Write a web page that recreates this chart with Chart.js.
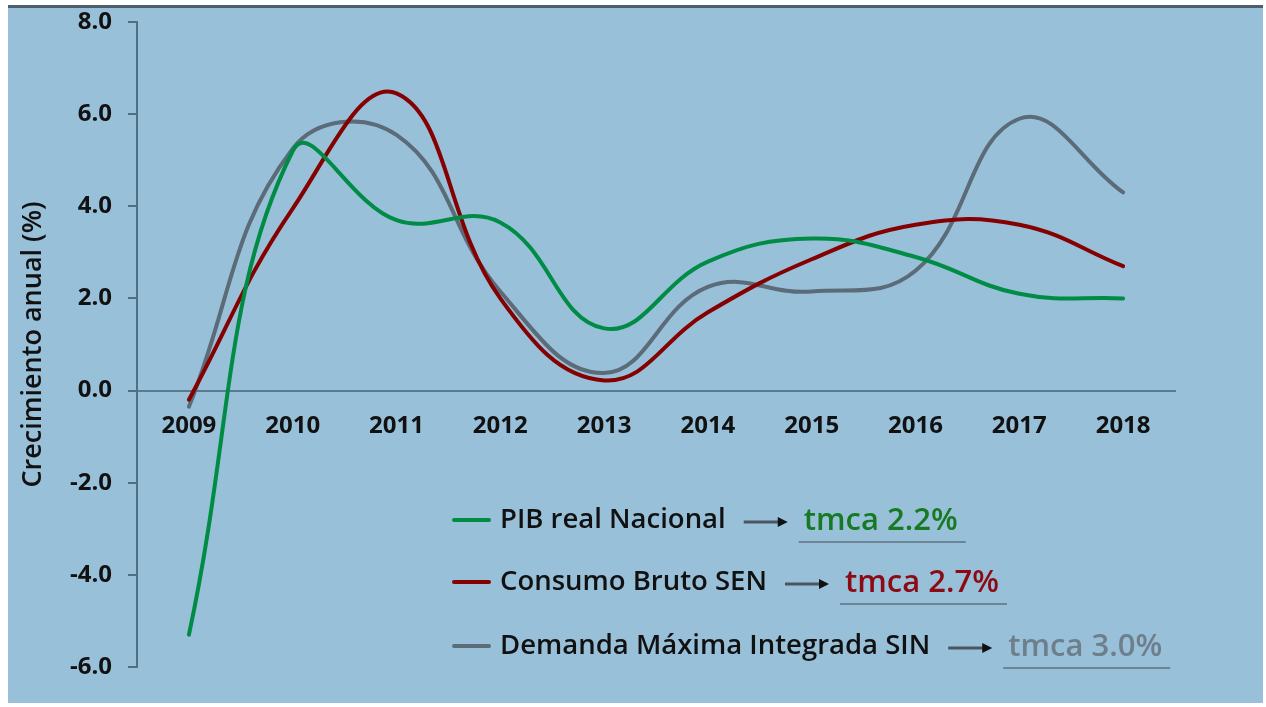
<!DOCTYPE html>
<html>
<head>
<meta charset="utf-8">
<script src="https://cdn.jsdelivr.net/npm/chart.js@4.4.0/dist/chart.umd.min.js"></script>
<style>
  html, body { margin: 0; padding: 0; background: #ffffff; }
  #frame {
    position: absolute; left: 8px; top: 5px;
    width: 1255px; height: 695px;
    border-top: 3px solid #4e5f6b;
    background: #98c0d9;
  }
  #growthChart { display: block; }
</style>
</head>
<body>
<div id="frame">
  <canvas id="growthChart" width="1255" height="695"></canvas>
</div>
<script>
const years = ['2009', '2010', '2011', '2012', '2013', '2014', '2015', '2016', '2017', '2018'];

const pibReal = [-5.3, 5.2, 3.7, 3.65, 1.35, 2.8, 3.3, 2.9, 2.1, 2.0];
const consumoBruto = [-0.2, 3.95, 6.45, 2.0, 0.22, 1.7, 2.85, 3.6, 3.6, 2.7];
const demandaMaxima = [-0.35, 5.25, 5.55, 2.15, 0.38, 2.25, 2.15, 2.6, 5.9, 4.3];

const seriesNames = ['PIB real Nacional', 'Consumo Bruto SEN', 'Demanda Máxima Integrada SIN'];
const seriesColors = ['#008c45', '#850000', '#5b6b78'];
const tmcaLabels = ['tmca 2.2%', 'tmca 2.7%', 'tmca 3.0%'];
const tmcaColors = ['#177a22', '#8c0a14', '#6e7e8b'];

const yMin = -6;
const yMax = 8;
const yStep = 2;

const FONT = '"Open Sans", "DejaVu Sans", sans-serif';

// legend drawn by hand: line swatch, label, arrow, underlined tmca
const tmcaLegend = {
  id: 'tmcaLegend',
  afterDraw(chart) {
    const ctx = chart.ctx;
    const rows = [512, 574, 638];
    ctx.save();
    seriesNames.forEach((name, i) => {
      const y = rows[i];
      // swatch
      ctx.strokeStyle = seriesColors[i];
      ctx.lineWidth = 4;
      ctx.lineCap = 'round';
      ctx.beginPath();
      ctx.moveTo(446, y);
      ctx.lineTo(481, y);
      ctx.stroke();

      // label
      ctx.font = '600 27.5px ' + FONT;
      ctx.fillStyle = '#111111';
      ctx.textBaseline = 'middle';
      ctx.textAlign = 'left';
      ctx.fillText(name, 492, y);
      const textEnd = 492 + ctx.measureText(name).width;

      // arrow
      const ax = textEnd + 18;
      ctx.strokeStyle = '#4a5763';
      ctx.lineWidth = 3;
      ctx.lineCap = 'butt';
      ctx.beginPath();
      ctx.moveTo(ax, y + 2);
      ctx.lineTo(ax + 36, y + 2);
      ctx.stroke();
      ctx.fillStyle = '#111111';
      ctx.beginPath();
      ctx.moveTo(ax + 44, y + 2);
      ctx.lineTo(ax + 34, y - 3);
      ctx.lineTo(ax + 34, y + 7);
      ctx.closePath();
      ctx.fill();

      // tmca text
      const tx = ax + 60;
      ctx.font = '600 31px ' + FONT;
      ctx.fillStyle = tmcaColors[i];
      ctx.fillText(tmcaLabels[i], tx, y + 1);
      const tw = ctx.measureText(tmcaLabels[i]).width;

      // underline
      ctx.strokeStyle = '#6d8396';
      ctx.lineWidth = 2;
      ctx.beginPath();
      ctx.moveTo(tx - 5, y + 22);
      ctx.lineTo(tx + tw + 8, y + 22);
      ctx.stroke();
    });
    ctx.restore();
  }
};

const ctx = document.getElementById('growthChart').getContext('2d');

new Chart(ctx, {
  type: 'line',
  data: {
    labels: years,
    datasets: [
      { label: seriesNames[0], data: pibReal, borderColor: seriesColors[0] },
      { label: seriesNames[1], data: consumoBruto, borderColor: seriesColors[1] },
      { label: seriesNames[2], data: demandaMaxima, borderColor: seriesColors[2] }
    ]
  },
  options: {
    responsive: false,
    animation: false,
    layout: {
      padding: { top: 14, right: 88, bottom: 36, left: 0 }
    },
    elements: {
      line: { borderWidth: 4, tension: 0.42, fill: false, borderCapStyle: 'round' },
      point: { radius: 0, hoverRadius: 0 }
    },
    plugins: {
      legend: { display: false },
      tooltip: { enabled: false }
    },
    scales: {
      x: {
        type: 'category',
        offset: true,
        position: { y: 0 },
        grid: { display: false, drawTicks: false },
        border: { display: true, color: '#5a7a8d', width: 2 },
        ticks: {
          color: '#111111',
          padding: 21,
          maxRotation: 0,
          font: { family: FONT, size: 24, weight: '700' }
        }
      },
      y: {
        type: 'linear',
        min: yMin,
        max: yMax,
        grid: {
          display: true,
          drawOnChartArea: false,
          drawTicks: true,
          tickLength: 9,
          color: '#4f6f82',
          lineWidth: 2
        },
        border: { display: true, color: '#4f6f82', width: 2 },
        ticks: {
          stepSize: yStep,
          padding: 16,
          color: '#111111',
          font: { family: FONT, size: 24, weight: '700' },
          callback: (value) => value.toFixed(1)
        },
        title: {
          display: true,
          text: 'Crecimiento anual (%)',
          color: '#111111',
          padding: { top: 9, bottom: 0 },
          font: { family: FONT, size: 27, weight: '600' }
        },
        afterFit(scale) {
          scale.width = 129;
          scale.paddingTop = 0;
          scale.paddingBottom = 0;
        }
      }
    }
  },
  plugins: [tmcaLegend]
});
</script>
</body>
</html>
